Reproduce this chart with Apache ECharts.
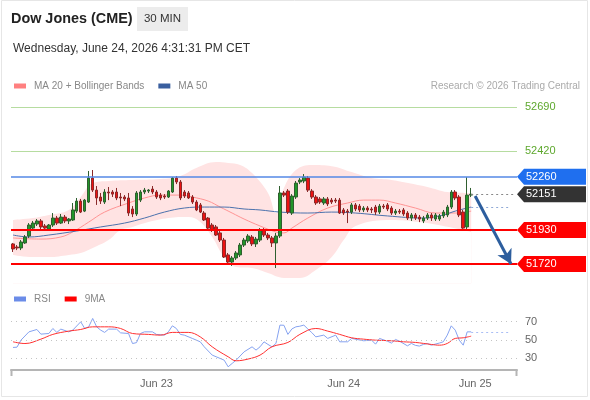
<!DOCTYPE html>
<html lang="en">
<head>
<meta charset="UTF-8">
<title>Dow Jones (CME) 30 MIN</title>
<script src="https://cdn.jsdelivr.net/npm/echarts@6/dist/echarts.min.js"></script>
<style>
  html, body { margin: 0; padding: 0; background: #fff; }
  #chart { width: 590px; height: 400px; }
</style>
</head>
<body>
<div id="chart"></div>
<script>
// 30 min candles, [open, close, low, high]
var ohlc = [
  [51844,51813,51794,51850],[51825,51819,51806,51837],[51819,51856,51806,51868],[51850,51887,51844,51899],
  [51893,51961,51881,51973],[51942,51973,51936,51986],[51967,51986,51955,51998],[51986,51949,51936,51998],
  [51955,51942,51924,51967],[51936,51961,51930,51967],[51961,52004,51949,52035],[52004,51973,51961,52017],
  [51973,52010,51967,52029],[52010,51986,51973,52023],[51986,51998,51967,52004],[51992,52054,51986,52097],
  [52047,52109,52035,52128],[52109,52041,52035,52122],[52047,52115,52041,52122],[52103,52251,52097,52295],
  [52251,52177,52165,52301],[52177,52128,52085,52202],[52134,52109,52091,52159],[52103,52165,52091,52183],
  [52165,52159,52115,52196],[52165,52152,52134,52177],[52165,52128,52115,52190],[52134,52128,52078,52159],
  [52134,52122,52109,52146],[52128,52035,52017,52159],[52060,52029,52010,52078],[52029,52159,52017,52171],
  [52115,52165,52103,52177],[52165,52177,52152,52190],[52171,52177,52159,52183],[52183,52165,52152,52202],
  [52165,52134,52122,52177],[52146,52128,52115,52159],[52140,52134,52122,52152],[52134,52171,52128,52177],
  [52165,52251,52159,52257],[52251,52227,52214,52264],[52227,52128,52115,52239],[52165,52140,52128,52177],
  [52159,52128,52122,52171],[52134,52103,52091,52146],[52103,52054,52047,52115],[52085,52041,52035,52097],
  [52035,51992,51986,52047],[52004,51942,51936,52010],[51961,51930,51918,51973],[51949,51899,51893,51961],
  [51912,51868,51856,51924],[51868,51763,51757,51881],[51776,51732,51714,51788],[51732,51757,51708,51769],
  [51757,51788,51745,51800],[51776,51837,51763,51850],[51837,51868,51825,51881],[51862,51893,51850,51905],
  [51887,51844,51831,51899],[51844,51874,51825,51887],[51868,51930,51856,51942],[51930,51899,51887,51942],
  [51899,51881,51868,51912],[51881,51850,51825,51893],[51850,51893,51695,51912],[51893,52159,51881,52202],
  [52159,52146,52134,52171],[52171,52041,52029,52183],[52035,52140,52023,52152],[52134,52220,52122,52233],
  [52227,52239,52214,52251],[52233,52257,52220,52276],[52251,52177,52165,52264],[52171,52134,52122,52183],
  [52134,52097,52085,52146],[52122,52103,52091,52134],[52097,52122,52085,52134],[52122,52091,52078,52134],
  [52115,52103,52091,52128],[52115,52109,52097,52128],[52115,52035,52029,52128],[52054,52035,52023,52066],
  [52047,52041,51973,52060],[52041,52085,52029,52097],[52085,52060,52047,52097],[52078,52054,52041,52091],
  [52054,52066,52041,52078],[52066,52054,52041,52078],[52060,52054,52035,52072],[52072,52041,52023,52085],
  [52041,52078,52029,52091],[52078,52072,52060,52091],[52085,52060,52047,52097],[52066,52035,52023,52078],
  [52035,52047,52023,52060],[52047,52041,52029,52060],[52054,52029,52017,52066],[52035,52004,51992,52047],
  [52004,52023,51986,52035],[52023,52004,51992,52035],[52010,51998,51979,52023],[51986,52004,51973,52017],
  [52004,52023,51992,52035],[52023,52004,51986,52035],[51998,52023,51986,52035],[51998,52017,51986,52029],
  [52017,52041,52004,52054],[52023,52072,52010,52085],[52072,52165,52060,52177],[52165,52128,52115,52177],
  [52134,52023,52010,52146],[52041,51942,51930,52054],[51949,52146,51936,52257],[52146,52151,52134,52190]
];

// indicator readings, [candle index, value]
var ma20 = [[0,51881],[7,51874],[12,51887],[15,51918],[19,51979],[23,52041],[29,52097],[33,52128],[37,52146],
  [42,52146],[45,52134],[49,52109],[52,52072],[55,52035],[58,51998],[62,51955],[66,51918],[68,51912],[70,51942],
  [74,52004],[79,52066],[84,52097],[88,52115],[92,52115],[96,52097],[101,52066],[106,52035],[111,52035],[115,52047]];
var ma50 = [[0,51899],[4,51887],[9,51899],[16,51924],[22,51949],[28,51973],[33,52004],[38,52041],[43,52066],
  [48,52072],[53,52072],[58,52060],[62,52054],[67,52041],[74,52035],[80,52041],[86,52035],[94,52017],[103,52004],
  [108,52023],[111,52047],[115,52072]];
var bbUpper = [[0,51992],[5,52004],[9,52023],[14,52054],[17,52134],[20,52220],[24,52233],[30,52239],[37,52245],
  [42,52264],[46,52313],[51,52350],[54,52344],[57,52332],[60,52282],[64,52159],[66,52035],[68,52190],[71,52301],
  [75,52332],[80,52325],[85,52288],[90,52251],[95,52239],[104,52196],[109,52165],[115,52159]];
var bbLower = [[0,51776],[5,51763],[9,51763],[14,51776],[17,51788],[20,51819],[24,51868],[27,51930],[30,51949],
  [34,51979],[39,52004],[44,52010],[47,51980],[50,51887],[53,51763],[56,51701],[60,51695],[64,51664],[68,51634],
  [72,51634],[76,51683],[80,51763],[83,51868],[86,51955],[95,51992],[102,51979],[108,51955],[115,51918]];
var rsi = [[0,41.7],[1,42],[2,49.7],[4,58.8],[6,61.4],[7,56.3],[9,57],[10,62.5],[11,58.2],[12,61.8],[14,58.8],
  [15,60.7],[17,69.8],[18,62.5],[19,64.3],[20,73.5],[21,64.3],[22,60.7],[23,58.2],[24,61.8],[26,61.8],[27,57.7],
  [29,57],[30,46],[31,47],[32,57],[33,58.8],[35,58.8],[36,56],[38,55.2],[39,58.8],[40,65.4],[41,62.5],[42,56],
  [43,55.2],[45,51.6],[47,47.9],[48,42.4],[50,33.3],[51,31.5],[53,27.8],[54,20.5],[55,24.2],[56,27.8],[58,36.9],
  [60,42.4],[61,38.8],[62,42.4],[63,47.9],[64,45],[65,42.4],[66,46.1],[67,66.2],[68,66],[69,56],[70,62],[71,64.3],
  [72,65],[73,66.2],[74,62],[75,58],[76,53.3],[78,55.2],[79,51.6],[81,55.2],[82,47.9],[84,47.9],[85,51.6],[88,49],
  [90,49.7],[91,45.3],[92,51.6],[94,48.5],[95,46.5],[96,50.5],[97,48.6],[99,43.5],[100,46.1],[101,44],[102,43.2],
  [103,45],[104,46.1],[105,44.2],[107,46.5],[108,47.9],[109,55.2],[110,65.4],[111,60.7],[112,49.7],[113,44.2],
  [114,58.8],[115,58.8]];
var rsiMa9 = [[0,47.9],[3,46],[7,50.8],[10,56],[14,59.6],[17,61.4],[20,64.3],[24,64.3],[27,62.5],[30,57],[34,56],
  [37,55.2],[40,58.2],[44,58.2],[47,53.3],[50,42.4],[54,31.5],[56,27.1],[59,29],[62,33.3],[65,42.4],[69,47.2],
  [72,56],[76,62.5],[79,59.6],[82,56],[85,52.3],[88,50.8],[91,49.7],[95,49],[98,47.9],[101,47.2],[105,45],
  [107,44.2],[109,46.1],[111,51.6],[113,52.3],[115,54.1]];

var slotCount = 127;               // candles + empty space on the right
var dateLabels = ['Jun 23', 'Jun 24', 'Jun 25'];
var dateLabelIdx = [36, 83, 116];
var resistances = [52690, 52420];  // green
var pivot = 52260;                 // blue
var lastPrice = 52151;
var supports = [51930, 51720];     // red
var rsiLevels = [30, 50, 70];
var target = [[116, 52140], [125, 51720]];

var categories = [];
for (var i = 0; i < slotCount; i++) categories.push(String(i));
var lastIdx = ohlc.length - 1;
var FONT = '"Liberation Sans", Arial, sans-serif';

var chart = echarts.init(document.getElementById('chart'), null, { renderer: 'canvas' });

var option = {
  animation: false,
  textStyle: { fontFamily: FONT },
  legend: [{
    left: 9, top: 76, icon: 'rect', itemWidth: 12, itemHeight: 5, itemGap: 14,
    selectedMode: false,
    textStyle: { color: '#888', fontSize: 10, padding: [0, 0, 0, 3] },
    data: [{ name: 'MA 20 + Bollinger Bands', itemStyle: { color: '#ff8080' } },
           { name: 'MA 50', itemStyle: { color: '#3a5f9f' } }]
  }, {
    left: 9, top: 289, icon: 'rect', itemWidth: 12, itemHeight: 5, itemGap: 14,
    selectedMode: false,
    textStyle: { color: '#888', fontSize: 10, padding: [0, 0, 0, 3] },
    data: [{ name: 'RSI', itemStyle: { color: '#6b8ce8' } },
           { name: '9MA', itemStyle: { color: '#ff0000' } }]
  }],
  grid: [
    { left: 11, right: 73, top: 99, bottom: 116.6 },
    { left: 11, right: 73, top: 312.5, bottom: 30 }
  ],
  xAxis: [{
    type: 'category', gridIndex: 0, data: categories, boundaryGap: true, show: false
  }, {
    type: 'category', gridIndex: 1, data: categories, boundaryGap: true,
    axisLine: { lineStyle: { color: '#b5b5b5', width: 2 } },
    axisTick: { show: false },
    axisLabel: {
      color: '#666', fontSize: 11, margin: 8,
      interval: function (idx) { return dateLabelIdx.indexOf(idx) >= 0; },
      formatter: function (val, idx) {
        var k = dateLabelIdx.indexOf(idx);
        return k >= 0 ? dateLabels[k] : '';
      }
    }
  }],
  yAxis: [{
    type: 'value', gridIndex: 0, min: 51600, max: 52740, show: false, splitLine: { show: false }
  }, {
    type: 'value', gridIndex: 1, min: 17, max: 80, show: false, splitLine: { show: false }
  }],
  series: [{
    name: 'bbUpper', type: 'line', data: bbUpper, smooth: 0.4, symbol: 'none', silent: true,
    lineStyle: { width: 0, opacity: 0 },
    areaStyle: { color: '#ffe3e3', opacity: 1, origin: 'start' }, z: 1
  }, {
    name: 'bbLower', type: 'line', data: bbLower, smooth: 0.4, symbol: 'none', silent: true,
    lineStyle: { width: 0, opacity: 0 },
    areaStyle: { color: '#ffffff', opacity: 1, origin: 'start' }, z: 1
  }, {
    name: 'MA 20 + Bollinger Bands', type: 'line', data: ma20, smooth: 0.4, symbol: 'none', silent: true,
    lineStyle: { color: '#ff9494', width: 1 }, itemStyle: { color: '#ff8080' }, z: 2
  }, {
    name: 'MA 50', type: 'line', data: ma50, smooth: 0.4, symbol: 'none', silent: true,
    lineStyle: { color: '#4c72ad', width: 1 }, itemStyle: { color: '#3a5f9f' }, z: 2,
    markLine: {
      silent: true, symbol: 'none', label: { show: false },
      lineStyle: { color: '#8fa9d6', type: [2, 3], width: 1 },
      data: [[{ coord: [lastIdx, ma50[ma50.length - 1][1]] },
              { coord: [slotCount - 2, ma50[ma50.length - 1][1]] }]]
    }
  }, {
    name: 'Dow', type: 'candlestick', data: ohlc, barWidth: 3, z: 4,
    itemStyle: { color: '#22962a', color0: '#ee1111', borderColor: '#2f5f2f', borderColor0: '#8a2a2a', borderWidth: 1 },
    markLine: {
      silent: true, symbol: 'none', label: { show: false },
      data: [
        { yAxis: resistances[0], lineStyle: { color: '#b6dca0', width: 1, type: 'solid' } },
        { yAxis: resistances[1], lineStyle: { color: '#b6dca0', width: 1, type: 'solid' } },
        { yAxis: pivot, lineStyle: { color: '#5588e6', width: 1.5, type: 'solid' } },
        { yAxis: supports[0], lineStyle: { color: '#ff0000', width: 2, type: 'solid' } },
        { yAxis: supports[1], lineStyle: { color: '#ff0000', width: 2, type: 'solid' } },
        [{ coord: [lastIdx, lastPrice], lineStyle: { color: '#888', width: 1, type: [2, 3] } },
         { coord: [slotCount - 1, lastPrice] }],
        [{ coord: target[0], symbol: 'none', lineStyle: { color: '#2d5e9e', width: 3, type: 'solid' } },
         { coord: target[1], symbol: 'arrow', symbolSize: [12, 14] }]
      ]
    }
  }, {
    name: 'RSI', type: 'line', xAxisIndex: 1, yAxisIndex: 1, data: rsi, symbol: 'none', silent: true,
    lineStyle: { color: '#85a2f0', width: 1 }, itemStyle: { color: '#6b8ce8' }, z: 3,
    markLine: {
      silent: true, symbol: 'none',
      data: rsiLevels.map(function (v) {
        return { yAxis: v, lineStyle: { color: '#c4c4c4', type: [1, 4], width: 1 },
                 label: { show: true, position: 'end', distance: 8, color: '#666', fontSize: 11, formatter: String(v) } };
      }).concat([[{ coord: [lastIdx, rsi[rsi.length - 1][1]], lineStyle: { color: '#a9bdf5', type: [2, 3], width: 1 }, label: { show: false } },
                  { coord: [slotCount - 2, rsi[rsi.length - 1][1]] }]])
    }
  }, {
    name: '9MA', type: 'line', xAxisIndex: 1, yAxisIndex: 1, data: rsiMa9, smooth: 0.4, symbol: 'none', silent: true,
    lineStyle: { color: '#ff3030', width: 1 }, itemStyle: { color: '#ff0000' }, z: 3
  }]
};
chart.setOption(option);

// texts and price tags
function tag(price, color) {
  var y = chart.convertToPixel({ yAxisIndex: 0 }, price);
  return [{
    type: 'polygon', silent: true, z: 10,
    shape: { points: [[517, y], [524, y - 8], [586, y - 8], [586, y + 8], [524, y + 8]] },
    style: { fill: color }
  }, {
    type: 'text', silent: true, z: 11, x: 526, y: y,
    style: { text: String(price), fill: '#fff', font: '11px ' + FONT, verticalAlign: 'middle' }
  }];
}
function plain(price, color) {
  var y = chart.convertToPixel({ yAxisIndex: 0 }, price);
  return [{
    type: 'text', silent: true, z: 11, x: 525, y: y,
    style: { text: String(price), fill: color, font: '11px ' + FONT, verticalAlign: 'middle' }
  }];
}

var elements = [
  { type: 'rect', silent: true, z: -1, shape: { x: 1.5, y: 0.5, width: 586, height: 396 },
    style: { fill: 'none', stroke: '#e6e6e6', lineWidth: 1 } },
  { type: 'text', silent: true, x: 11, y: 19,
    style: { text: 'Dow Jones (CME)', fill: '#222', font: 'bold 14.4px ' + FONT, verticalAlign: 'middle' } },
  { type: 'rect', silent: true, shape: { x: 137, y: 7, width: 51, height: 24 }, style: { fill: '#ececec' } },
  { type: 'text', silent: true, x: 162.5, y: 19,
    style: { text: '30 MIN', fill: '#333', font: '11.5px ' + FONT, align: 'center', verticalAlign: 'middle' } },
  { type: 'text', silent: true, x: 13, y: 49,
    style: { text: 'Wednesday, June 24, 2026 4:31:31 PM CET', fill: '#333', font: '12px ' + FONT, verticalAlign: 'middle' } },
  { type: 'text', silent: true, x: 580, y: 86,
    style: { text: 'Research \u00a9 2026 Trading Central', fill: '#aaa', font: '10px ' + FONT, align: 'right', verticalAlign: 'middle' } },
  { type: 'line', silent: true, shape: { x1: 11.5, y1: 370, x2: 11.5, y2: 376 }, style: { stroke: '#b5b5b5', lineWidth: 2 } },
  { type: 'line', silent: true, shape: { x1: 516.5, y1: 370, x2: 516.5, y2: 376 }, style: { stroke: '#b5b5b5', lineWidth: 2 } }
];
elements = elements
  .concat(plain(resistances[0], '#5ea82e'))
  .concat(plain(resistances[1], '#5ea82e'))
  .concat(tag(pivot, '#1f6fef'))
  .concat(tag(lastPrice, '#333333'))
  .concat(tag(supports[0], '#ff0000'))
  .concat(tag(supports[1], '#ff0000'));

chart.setOption({ graphic: elements });
</script>
</body>
</html>
